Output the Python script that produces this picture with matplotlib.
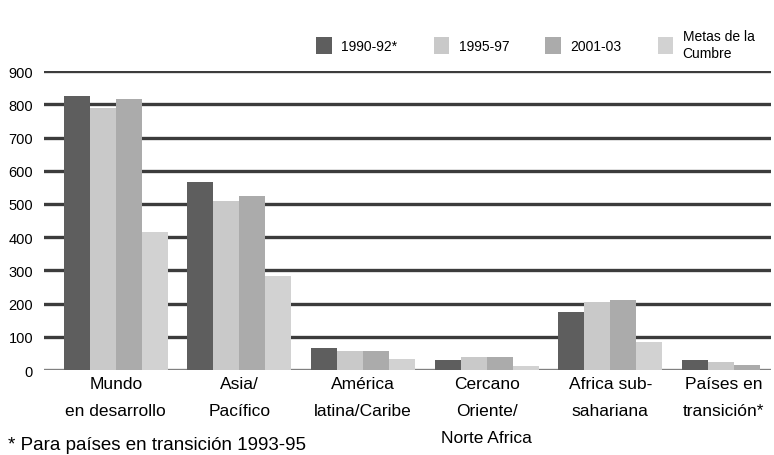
import matplotlib
matplotlib.use("Agg")
import matplotlib.pyplot as plt
import numpy as np

regiones = ["Mundo\nen desarrollo", "Asia/\nPacífico", "América\nlatina/Caribe",
            "Cercano\nOriente/\nNorte Africa", "Africa sub-\nsahariana", "Países en\ntransición*"]
periodos = ["1990-92*", "1995-97", "2001-03", "Metas de la\nCumbre"]

v_1990 = [825, 566, 66, 30, 174, 30]
v_1995 = [790, 509, 57, 40, 205, 26]
v_2001 = [816, 524, 57, 40, 210, 15]
v_metas = [415, 283, 33, 14, 84, 0]

colores = ["#5e5e5e", "#c9c9c9", "#ababab", "#d2d2d2"]
yticks = [0, 100, 200, 300, 400, 500, 600, 700, 800, 900]

fam = ["Liberation Sans Narrow", "Liberation Sans", "DejaVu Sans"]

fig = plt.figure(figsize=(7.74, 4.56), dpi=100)
ax = fig.add_axes([0.057, 0.186, 0.939, 0.656])

x = np.arange(len(regiones))
w = 0.21
series = [v_1990, v_1995, v_2001, v_metas]
for i, vals in enumerate(series):
    ax.bar(x + (i - 1.5) * w, vals, width=w, color=colores[i], label=periodos[i],
           zorder=3, linewidth=0)

for yv in yticks:
    ax.axhline(yv, color="#3c3c3c" if yv > 0 else "#808080", lw=2.4, zorder=1)

ax.set_xlim(-0.58, 5.30)
ax.set_ylim(0, 900)
for s in ax.spines.values():
    s.set_visible(False)
ax.set_yticks(yticks)
ax.set_yticklabels([str(t) for t in yticks], family=fam, fontsize=10.5)
ax.tick_params(axis="y", length=0, pad=8)
# last label sits a bit left so it fits in the figure
ax.set_xticks(x - np.array([0, 0, 0, 0, 0, 0.08]))
ax.set_xticklabels(regiones, family=fam, fontsize=12.5, linespacing=2.0, va="top")
ax.tick_params(axis="x", length=0, pad=4)

ax.legend(loc="lower right", bbox_to_anchor=(0.985, 1.02), ncol=4, frameon=False,
          prop={"family": fam, "size": 10}, handlelength=1.1, handleheight=1.5,
          columnspacing=2.6, handletextpad=0.7, borderaxespad=0)

fig.text(0.01, 0.004, "* Para países en transición 1993-95", family=fam, fontsize=13.5,
         ha="left", va="bottom")

fig.savefig("out.png", dpi=100)
